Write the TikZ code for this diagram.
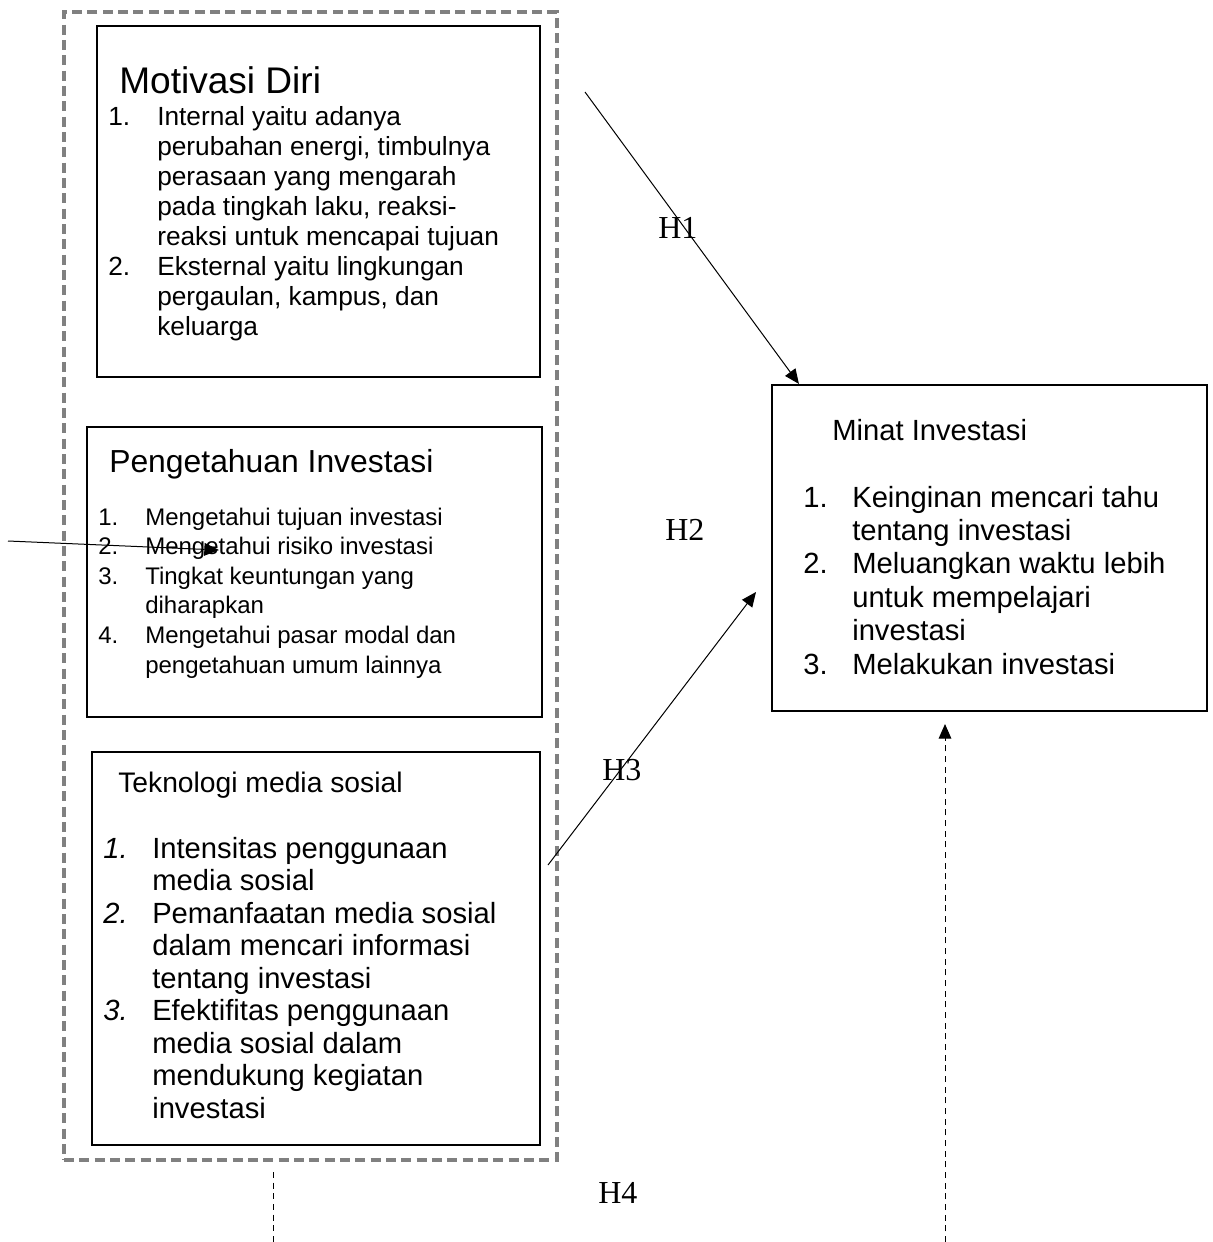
\documentclass[tikz,border=0pt]{standalone}
\usepackage{fontspec}
\setmainfont{Liberation Sans}
\newfontfamily\hfont{Liberation Serif}
\usetikzlibrary{arrows.meta,fit}
\newcommand{\setfs}[2]{\fontsize{#1}{#2}\selectfont}

\begin{document}
\begin{tikzpicture}[x=0.75pt, y=-0.75pt,
    box/.style={draw, line width=1.6pt, inner sep=0pt},
    group/.style={draw=gray, line width=3pt, dash pattern=on 7.5pt off 4pt, inner sep=0pt},
    txt/.style={anchor=base west, inner sep=0pt},
    hlabel/.style={anchor=base west, inner sep=0pt, font=\hfont\setfs{24}{24}},
    link/.style={line width=0.75pt, -{Triangle[length=11pt,width=9.5pt]}},
    dotlink/.style={line width=0.75pt, dash pattern=on 4.5pt off 3.5pt}]
  \useasboundingbox (0,0) rectangle (1213,1242);

  % kotak variabel
  \node[group, fit={(64,12) (557,1160)}] (variabel) {};
  \node[box, fit={(97,26) (540,377)}] (motivasi) {};
  \node[box, fit={(87,427) (542,717)}] (pengetahuan) {};
  \node[box, fit={(92,752) (540,1145)}] (teknologi) {};
  \node[box, fit={(772,385) (1207,711)}] (minat) {};

  % isi kotak
  \node[txt, font=\setfs{27.8}{30}] (tmotivasi) at (119,93) {Motivasi Diri};
  \node[txt, font=\setfs{19.7}{22.5}] (imotivasi) at (108,125) {%
    \begin{tabular}[t]{@{}p{36.75pt}@{}l@{}}
      1. & Internal yaitu adanya\\
         & perubahan energi, timbulnya\\
         & perasaan yang mengarah\\
         & pada tingkah laku, reaksi-\\
         & reaksi untuk mencapai tujuan\\
      2. & Eksternal yaitu lingkungan\\
         & pergaulan, kampus, dan\\
         & keluarga
    \end{tabular}};

  \node[txt, font=\setfs{23.9}{26}] (tpengetahuan) at (109,472) {Pengetahuan Investasi};
  \node[txt, font=\setfs{18}{22.2}] (ipengetahuan) at (98,525) {%
    \begin{tabular}[t]{@{}p{35.25pt}@{}l@{}}
      1. & Mengetahui tujuan investasi\\
      2. & Mengetahui risiko investasi\\
      3. & Tingkat keuntungan yang\\
         & diharapkan\\
      4. & Mengetahui pasar modal dan\\
         & pengetahuan umum lainnya
    \end{tabular}};

  \node[txt, font=\setfs{21.2}{24}] (tteknologi) at (118,792) {Teknologi media sosial};
  \node[txt, font=\setfs{21.9}{24.4}] (iteknologi) at (103,858) {%
    \begin{tabular}[t]{@{}p{36.75pt}@{}l@{}}
      \textit{1.} & Intensitas penggunaan\\
                  & media sosial\\
      \textit{2.} & Pemanfaatan media sosial\\
                  & dalam mencari informasi\\
                  & tentang investasi\\
      \textit{3.} & Efektifitas penggunaan\\
                  & media sosial dalam\\
                  & mendukung kegiatan\\
                  & investasi
    \end{tabular}};

  \node[txt, font=\setfs{21.9}{24}] (tminat) at (832,440) {Minat Investasi};
  \node[txt, font=\setfs{21.9}{25.1}] (iminat) at (803,507) {%
    \begin{tabular}[t]{@{}p{36.75pt}@{}l@{}}
      1. & Keinginan mencari tahu\\
         & tentang investasi\\
      2. & Meluangkan waktu lebih\\
         & untuk mempelajari\\
         & investasi\\
      3. & Melakukan investasi
    \end{tabular}};

  % hipotesis
  \node[hlabel] (h1) at (658,238) {H1};
  \node[hlabel] (h2) at (665,540) {H2};
  \node[hlabel] (h3) at (602,780) {H3};
  \node[hlabel] (h4) at (598,1203) {H4};

  % panah
  \coordinate (h1awal) at (585,92);
  \coordinate (h3awal) at (548,865);
  \coordinate (h3akhir) at (756,592);
  \coordinate (masukkiri) at (8,541);
  \coordinate (masukkanan) at (219,550);
  \coordinate (h4kiri) at (273,1172);
  \coordinate (h4kiribawah) at (273,1242);
  \coordinate (h4bawah) at (945,1242);
  \coordinate (h4atas) at (945,724);

  \draw[link] (h1awal) -- ([xshift=21pt]minat.north west);
  \draw[link] (h3awal) -- (h3akhir);
  \draw[link] (masukkiri) -- (masukkanan);
  \draw[dotlink] (h4kiri) -- (h4kiribawah);
  \draw[dotlink, link] (h4bawah) -- (h4atas);
\end{tikzpicture}
\end{document}
